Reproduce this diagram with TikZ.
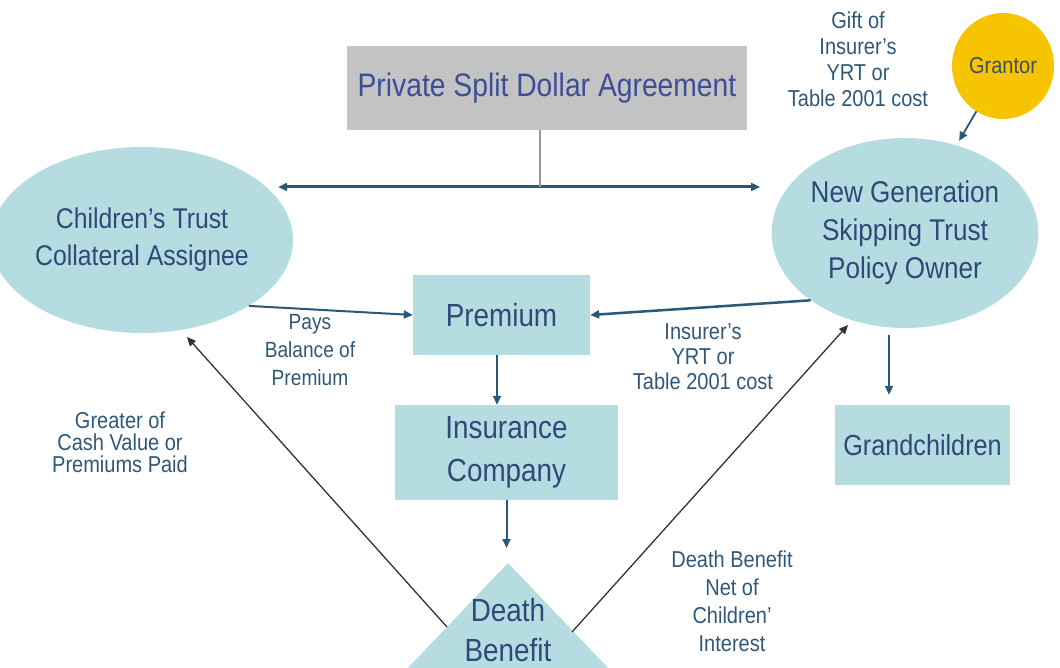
\documentclass[tikz,border=0pt]{standalone}
\usepackage{fontspec}
\setmainfont[FakeStretch=0.87]{Liberation Sans}
\usetikzlibrary{arrows.meta,shapes.geometric}
\definecolor{tealfill}{HTML}{B5DCE0}
\definecolor{shapetext}{HTML}{2E4A78}
\definecolor{labeltext}{HTML}{2F5877}
\definecolor{arrowc}{HTML}{2A5878}
\definecolor{graybox}{HTML}{C3C3C3}
\definecolor{graytext}{HTML}{3B4F98}
\definecolor{gold}{HTML}{F6C400}
\definecolor{grantortext}{HTML}{3D4F63}
\begin{document}
\begin{tikzpicture}[x=1pt,y=-1pt,
  >={Triangle[length=9pt,width=8pt]},
  boxnode/.style={fill=tealfill, inner sep=0pt, text=shapetext, align=center},
  lbl/.style={text=labeltext, align=center, inner sep=0pt, font=\fontsize{23}{25}\selectfont},
  arr/.style={draw=arrowc, line width=2pt, ->},
  thinarr/.style={draw=black!80, line width=1.3pt, ->}]
\useasboundingbox (0,0) rectangle (1060,668);

% top agreement
\node[fill=graybox, minimum width=400pt, minimum height=84pt, inner sep=0pt,
      text=graytext, font=\fontsize{32.5}{36}\selectfont] (psda) at (547,88) {Private Split Dollar Agreement};
\coordinate (hl) at (278,187);
\coordinate (hr) at (760,187);
\draw[arr, line width=3pt, <->] (hl) -- (hr);
\draw[black!40, line width=1.3pt] ([xshift=-7pt]psda.south) -- ([xshift=-7pt]psda.south |- hl);

% trusts
\node[ellipse, boxnode, minimum width=265pt, minimum height=186pt,
      font=\fontsize{28.5}{37}\selectfont] (ct) at (142,240) {Children’s Trust\\Collateral Assignee};
\node[ellipse, boxnode, minimum width=266pt, minimum height=190pt,
      font=\fontsize{30}{38}\selectfont] (ng) at (905,233) {New Generation\\Skipping Trust\\Policy Owner};

% grantor
\node[ellipse, fill=gold, minimum width=102pt, minimum height=106pt, inner sep=0pt,
      text=grantortext, font=\fontsize{23}{26}\selectfont] (gr) at (1003,66) {Grantor};
\node[lbl, font=\fontsize{23}{26}\selectfont] (gift) at (858,59) {Gift of\\Insurer’s\\YRT or\\Table 2001 cost};
\draw[arr, line width=1.8pt, shorten >=5pt] (gr) -- (ng);

% premium
\node[boxnode, minimum width=177pt, minimum height=80pt,
      font=\fontsize{32}{36}\selectfont] (pr) at (501.5,315) {Premium};
\draw[arr] (ct.south east) -- (pr.west);
\node[lbl, font=\fontsize{22}{28}\selectfont] (pays) at (310,350) {Pays\\Balance of\\Premium};
\draw[arr, line width=2.5pt] (ng.south west) -- (pr.east);
\node[lbl] (ins) at (703,357) {Insurer’s\\YRT or\\Table 2001 cost};

% insurance company
\node[boxnode, minimum width=223pt, minimum height=95pt,
      font=\fontsize{32}{43}\selectfont] (ic) at (506.5,452.5) {Insurance\\Company};
\draw[arr] ([xshift=-4.5pt]pr.south) -- ([xshift=-4.5pt]pr.south |- ic.north);

% death benefit triangle
\coordinate (dbtop) at (508,563);
\fill[tealfill] (dbtop) -- ++(165,173) -- ++(-330,0) -- cycle;
\node[text=shapetext, align=center, inner sep=0pt, font=\fontsize{32}{40}\selectfont] (db) at (508,630) {Death\\Benefit};
\draw[arr, shorten >=15pt] (ic.south) -- (ic.south |- dbtop);

\coordinate (dbl) at (447,627);
\coordinate (ctin) at (187,337);
\draw[thinarr] (dbl) -- (ctin);
\coordinate (dbr) at (572,632);
\coordinate (ngin) at (848,325);
\draw[thinarr] (dbr) -- (ngin);

\node[lbl, font=\fontsize{23}{22}\selectfont] (greater) at (120,442) {Greater of\\Cash Value or\\Premiums Paid};
\node[lbl, font=\fontsize{23}{28}\selectfont] (dbnet) at (732,601) {Death Benefit\\Net of\\Children’\\Interest};

% grandchildren
\node[boxnode, minimum width=175pt, minimum height=80pt,
      font=\fontsize{29}{32}\selectfont] (gc) at (922.5,445) {Grandchildren};
\draw[arr, shorten <=7pt, shorten >=10pt] ([xshift=-16pt]ng.south) -- ([xshift=-16pt]ng.south |- gc.north);
\end{tikzpicture}
\end{document}
